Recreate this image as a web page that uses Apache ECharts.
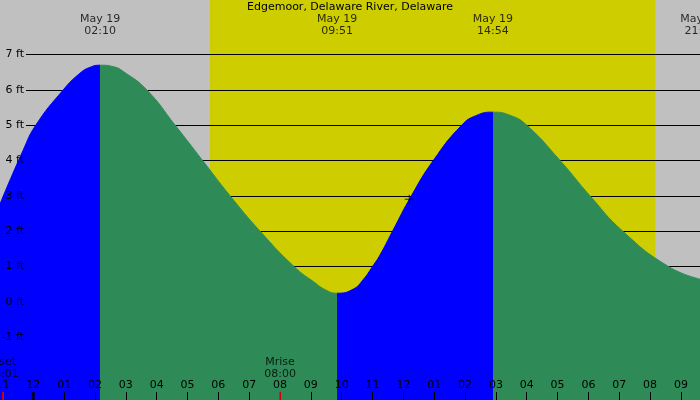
<!DOCTYPE html>
<html>
<head>
<meta charset="utf-8">
<script src="https://cdn.jsdelivr.net/npm/echarts@6/dist/echarts.min.js"></script>
<style>
html, body { margin: 0; padding: 0; background: #c0c0c0; }
#main { width: 700px; height: 400px; }
</style>
</head>
<body>
<div id="main"></div>
<script>
// tide height (ft), hours from midnight May 19
var tideHours = [-1.08, -0.33, 0.08, 0.97, 1.51, 1.84, 2.17, 2.59, 2.92, 3.68, 4.6, 5.49, 6.38, 7.35, 8.45,
    9.08, 9.51, 9.85, 10.38, 10.7, 11.0, 11.24, 11.65, 12.26, 12.97, 13.89, 14.38, 14.9, 15.46, 16.0,
    17.08, 18.05, 19.11, 20.59, 21.62];
var tideFeet = [2.77, 4.29, 5.0, 6.0, 6.47, 6.64, 6.7, 6.66, 6.52, 6.0, 5.0, 4.0, 3.0, 2.0, 1.0,
    0.57, 0.32, 0.24, 0.36, 0.63, 1.0, 1.32, 2.0, 3.0, 4.0, 5.0, 5.28, 5.37, 5.28, 5.0,
    4.0, 3.0, 2.0, 1.0, 0.64];

// highs and lows
var eventHours = [2.167, 9.85, 14.9, 21.63];
var eventLabels = ['May 19\n02:10', 'May 19\n09:51', 'May 19\n14:54', 'May 19\n21:38'];

// sunrise / sunset
var daylight = [5.73, 20.17];

// moon
var moonHours = [-0.983, 8.0];
var moonLabels = ['Mset\n23:01', 'Mrise\n08:00'];

// midnight
var dayStart = [0];

// axis ticks
var feetTicks = [-1, 0, 1, 2, 3, 4, 5, 6, 7];
var hourTicks = [-1, 0, 1, 2, 3, 4, 5, 6, 7, 8, 9, 10, 11, 12, 13, 14, 15, 16, 17, 18, 19, 20, 21];
var hourLabels = ['11', '12', '01', '02', '03', '04', '05', '06', '07', '08', '09', '10',
    '11', '12', '01', '02', '03', '04', '05', '06', '07', '08', '09'];

// now marker
var nowPoint = [12.19, 2.9];

var xMin = -1.08, xMax = 21.618;
var yMin = -2.785, yMax = 8.547;
var gridStart = -0.237;

var tideData = tideHours.map(function (h, i) { return [h, tideFeet[i]]; });

var gridLines = feetTicks.map(function (f) {
    return [{ coord: [gridStart, f] }, { coord: [xMax, f] }];
});

var font = 'DejaVu Sans';

var myChart = echarts.init(document.getElementById('main'));

var option = {
    animation: false,
    backgroundColor: '#c0c0c0',
    textStyle: { fontFamily: font, fontSize: 11, color: '#000' },
    title: {
        text: 'Edgemoor, Delaware River, Delaware',
        left: 'center',
        top: 2,
        padding: 0,
        textStyle: { fontFamily: font, fontSize: 11, fontWeight: 'normal', color: '#000' }
    },
    grid: { left: 0, right: 0, top: 0, bottom: 0, containLabel: false, outerBoundsMode: 'none' },
    xAxis: {
        type: 'value',
        min: xMin,
        max: xMax,
        z: 5,
        axisLine: { show: false, onZero: false },
        splitLine: { show: false },
        axisTick: {
            inside: true,
            length: 8,
            customValues: hourTicks,
            lineStyle: { color: '#000', width: 1 }
        },
        axisLabel: {
            inside: true,
            margin: 9,
            customValues: hourTicks,
            fontFamily: font,
            fontSize: 11,
            color: '#000',
            formatter: function (v) {
                return hourLabels[hourTicks.indexOf(Math.round(v))];
            }
        }
    },
    yAxis: {
        type: 'value',
        min: yMin,
        max: yMax,
        z: 5,
        axisLine: { show: false, onZero: false },
        axisTick: { show: false },
        splitLine: { show: false },
        axisLabel: {
            inside: true,
            align: 'right',
            margin: 24,
            customValues: feetTicks,
            fontFamily: font,
            fontSize: 11,
            color: '#000',
            formatter: '{value} ft'
        }
    },
    visualMap: {
        show: false,
        type: 'piecewise',
        seriesIndex: 1,
        dimension: 0,
        pieces: [
            { lt: eventHours[0], color: '#0000ff' },
            { gte: eventHours[0], lt: eventHours[1], color: '#2e8b57' },
            { gte: eventHours[1], lt: eventHours[2], color: '#0000ff' },
            { gte: eventHours[2], color: '#2e8b57' }
        ]
    },
    series: [{
        // daylight band and the ft lines
        type: 'line',
        data: [],
        silent: true,
        markArea: {
            z: 0,
            silent: true,
            itemStyle: { color: '#cdcd00', opacity: 1 },
            data: [[{ xAxis: daylight[0] }, { xAxis: daylight[1] }]]
        },
        markLine: {
            z: 1,
            silent: true,
            symbol: ['none', 'none'],
            label: { show: false },
            lineStyle: { color: '#000', width: 1, type: 'solid' },
            data: gridLines
        }
    }, {
        type: 'line',
        z: 2,
        data: tideData,
        smooth: 0.5,
        symbol: 'none',
        lineStyle: { width: 1 },
        areaStyle: { opacity: 1, origin: 'start' }
    }, {
        // high / low times along the top
        type: 'scatter',
        z: 3,
        clip: false,
        symbolSize: 0,
        data: eventHours.map(function (h) { return [h, yMax]; }),
        label: {
            show: true,
            position: 'bottom',
            distance: 13,
            lineHeight: 12,
            fontFamily: font,
            fontSize: 11,
            color: '#000',
            formatter: function (p) { return eventLabels[p.dataIndex]; }
        }
    }, {
        // moon rise / set
        type: 'scatter',
        z: 6,
        clip: false,
        symbol: 'rect',
        symbolSize: [2, 8],
        symbolOffset: [0, -4],
        itemStyle: { color: '#ff0000' },
        data: moonHours.map(function (h) { return [h, yMin]; }),
        label: {
            show: true,
            position: 'top',
            distance: 12,
            lineHeight: 12,
            fontFamily: font,
            fontSize: 11,
            color: '#000',
            formatter: function (p) { return moonLabels[p.dataIndex]; }
        }
    }, {
        // midnight tick
        type: 'scatter',
        z: 6,
        clip: false,
        symbol: 'rect',
        symbolSize: [3, 8],
        symbolOffset: [0, -4],
        itemStyle: { color: '#000' },
        data: dayStart.map(function (h) { return [h, yMin]; })
    }, {
        type: 'scatter',
        z: 6,
        symbol: 'path://M0,4h9v1h-9zM4,0h1v9h-1z',
        symbolSize: 9,
        itemStyle: { color: '#000' },
        data: [nowPoint]
    }]
};

myChart.setOption(option);
</script>
</body>
</html>
